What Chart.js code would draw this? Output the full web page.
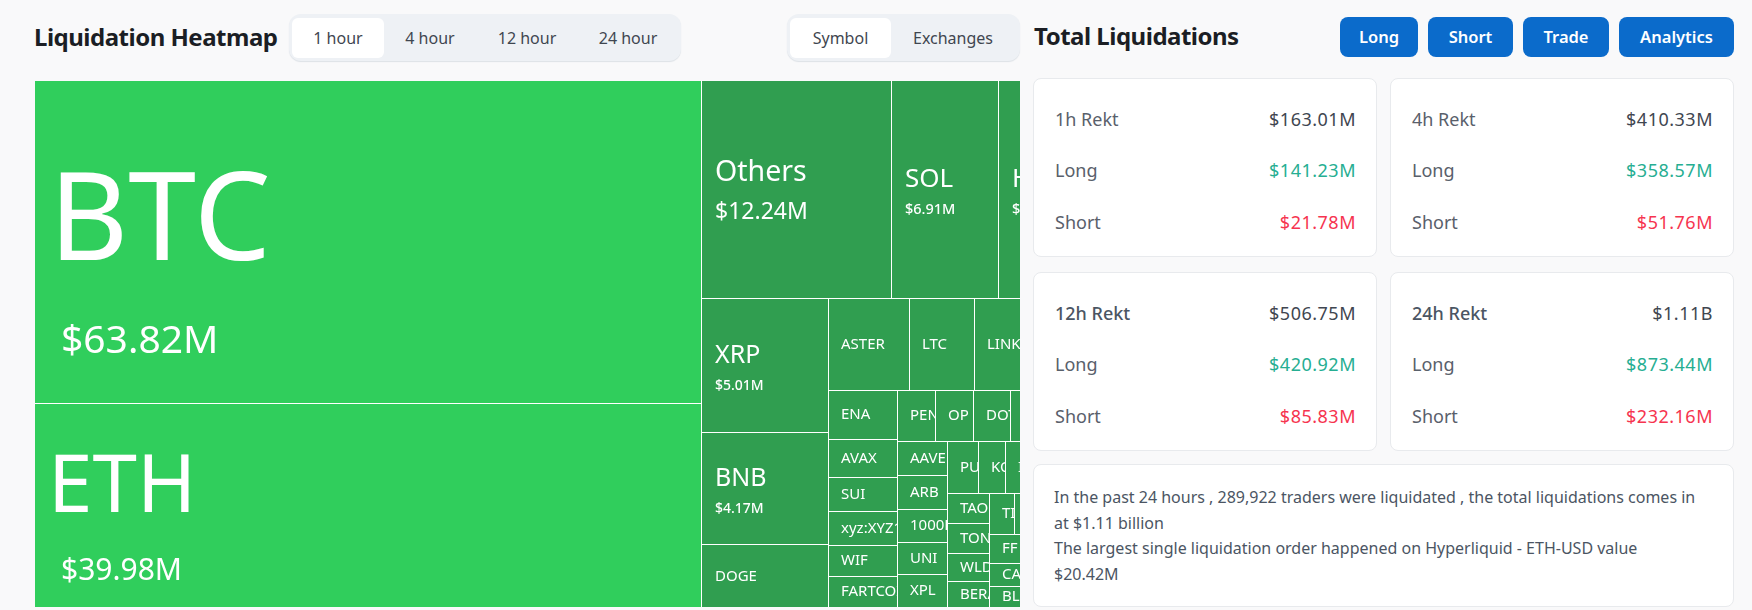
<!DOCTYPE html>
<html>
<head>
<meta charset="utf-8">
<title>Liquidation Heatmap</title>
<script src="https://cdn.jsdelivr.net/npm/chart.js@4/dist/chart.umd.js"></script>
<style>
    html, body { margin: 0; padding: 0; }
    body { width: 1752px; height: 610px; overflow: hidden; background: #f9f9fa; position: relative;
           font-family: "Noto Sans", sans-serif; color: #3f4650; }
    .title { position: absolute; font-weight: 700; font-size: 24px; line-height: 32px; color: #1b1e24; letter-spacing: -0.5px; white-space: nowrap; }
    .tabs { position: absolute; top: 14px; height: 47px; background: #eef1f5; border-radius: 12px; box-shadow: 0 1px 1px #dde1e6; }
    .tab { position: absolute; top: 4px; height: 40px; line-height: 40px; text-align: center; font-size: 16px; color: #3f4650; border-radius: 6px; }
    .tab.on { background: #fff; }
    .btn { position: absolute; top: 17px; height: 40px; line-height: 39px; text-align: center; background: #0b6bcb; color: #fff;
           font-size: 16.5px; font-weight: 600; border-radius: 8px; }
    #chartBox { position: absolute; left: 35px; top: 81px; width: 985px; height: 526px; overflow: hidden; background: #fff; }
    .card { position: absolute; background: #fff; border: 1px solid #e8eaed; border-radius: 8px; box-sizing: border-box; }
    .row { position: absolute; left: 21px; right: 20px; height: 26px; line-height: 26px; font-size: 18px; display: flex; justify-content: space-between; color: #59606b; }
    .row b { font-weight: 400; color: #3f4650; letter-spacing: 0.5px; }
    .row.head.bold span { font-weight: 500; color: #4b5563; }
    .row .up { color: #26ae92; letter-spacing: 0.5px; }
    .row .down { color: #f6344f; letter-spacing: 0.5px; }
    .note { position: absolute; left: 20px; top: 20px; width: 647px; font-size: 16px; line-height: 25.6px; color: #4b5563; }
</style>
</head>
<body>
<div class="title" style="left:34px;top:21px">Liquidation Heatmap</div>
<div class="tabs" id="hourTabs" style="left:289px;width:392px"></div>
<div class="tabs" id="modeTabs" style="left:787px;width:233px"></div>
<div id="chartBox"><canvas id="heatmap" width="1048" height="526"></canvas></div>
<div class="title" style="left:1034px;top:20px">Total Liquidations</div>
<div id="buttons"></div>
<div id="cards"></div>
<script>
// 1 hour liquidations per symbol, $M. Names and values past the crop are unreadable, left blank
const symbols = [
    'BTC', 'ETH',
    'Others', 'SOL', 'HYPE',
    'XRP', 'BNB', 'DOGE',
    'ASTER', 'LTC', 'LINK', '',
    'ENA', 'AVAX', 'SUI', 'xyz:XYZ100', 'WIF', 'FARTCOIN',
    'PENGU', 'OP', 'DOT', '', '',
    'AAVE', 'ARB', '1000PEPE', 'UNI', 'XPL',
    'PUMP', 'KO', 'IP', '', '',
    'TAO', 'TON', 'WLD', 'BERA',
    'TIA', '', '', '',
    'FF', 'CAKE', 'BLUR',
    ''
];
const liqValues = [
    63.82, 39.98,
    12.24, 6.91, 5.43,
    5.01, 4.17, 2.34,
    2.18, 1.75, 1.6, 1.32,
    1.02, 0.78, 0.7, 0.69, 0.63, 0.62,
    0.57, 0.57, 0.56, 0.55, 0.54,
    0.51, 0.5, 0.49, 0.47, 0.47,
    0.47, 0.42, 0.4, 0.4, 0.4,
    0.37, 0.37, 0.35, 0.31,
    0.3, 0.27, 0.27, 0.27,
    0.29, 0.23, 0.2,
    1.26
];
// how many cells go in each treemap strip, strips alternate column / row
const stripSizes = [2, 3, 3, 4, 6, 5, 5, 5, 4, 4, 3, 1];
const liqLabels = { 'BTC': '$63.82M', 'ETH': '$39.98M', 'Others': '$12.24M', 'SOL': '$6.91M', 'HYPE': '$5.43M', 'XRP': '$5.01M', 'BNB': '$4.17M' };

const hourTabs = ['1 hour', '4 hour', '12 hour', '24 hour'];
const modeTabs = ['Symbol', 'Exchanges'];
const actionButtons = ['Long', 'Short', 'Trade', 'Analytics'];
const rektNames = ['1h Rekt', '4h Rekt', '12h Rekt', '24h Rekt'];
const rektTotal = ['$163.01M', '$410.33M', '$506.75M', '$1.11B'];
const rektLong = ['$141.23M', '$358.57M', '$420.92M', '$873.44M'];
const rektShort = ['$21.78M', '$51.76M', '$85.83M', '$232.16M'];
const noteLines = [
    'In the past 24 hours , 289,922 traders were liquidated , the total liquidations comes in at $1.11 billion',
    'The largest single liquidation order happened on Hyperliquid - ETH-USD value $20.42M'
];

const CELL_GAP = 1;

// slice the unit square into strips, each cell area follows its value
function layoutCells(values, strips) {
    const cells = [];
    let remaining = values.reduce((a, b) => a + b, 0);
    let x0 = 0, y0 = 0, i = 0, asColumn = true;
    strips.forEach(size => {
        const part = values.slice(i, i + size);
        const sum = part.reduce((a, b) => a + b, 0);
        const share = sum / remaining;
        let run = 0;
        part.forEach(v => {
            const from = run / sum, to = (run + v) / sum;
            if (asColumn) {
                cells.push({ x0: x0, x1: x0 + (1 - x0) * share, y0: y0 + (1 - y0) * from, y1: y0 + (1 - y0) * to });
            } else {
                cells.push({ x0: x0 + (1 - x0) * from, x1: x0 + (1 - x0) * to, y0: y0, y1: y0 + (1 - y0) * share });
            }
            run += v;
        });
        if (asColumn) x0 += (1 - x0) * share; else y0 += (1 - y0) * share;
        remaining -= sum;
        i += size;
        asColumn = !asColumn;
    });
    return cells;
}

// minimal treemap type: bar elements placed through the x and y scales
class TreemapController extends Chart.DatasetController {
    parse() {}
    getMinMax() { return { min: 0, max: 1 }; }
    update() {
        const meta = this._cachedMeta;
        const cells = layoutCells(this.getDataset().data, this.getDataset().strips);
        const area = this.chart.chartArea;
        meta.data.forEach((el, i) => {
            const c = cells[i];
            const left = Math.round(meta.xScale.getPixelForValue(c.x0));
            const right = Math.round(meta.xScale.getPixelForValue(c.x1));
            const top = Math.round(meta.yScale.getPixelForValue(c.y0));
            const bottom = Math.round(meta.yScale.getPixelForValue(c.y1));
            const width = right - left - (right >= area.right ? 0 : CELL_GAP);
            const base = bottom - (bottom >= area.bottom ? 0 : CELL_GAP);
            Object.assign(el, {
                x: left + width / 2, y: top, base: base, width: width, height: base - top,
                horizontal: false, inflateAmount: 0, borderSkipped: {}, enableBorderRadius: true,
                options: {
                    backgroundColor: this.getDataset().data[i] >= 30 ? '#30ce5c' : '#309e50',
                    borderWidth: 0, borderSkipped: false, borderRadius: 0
                }
            });
        });
    }
}
TreemapController.id = 'treemapCells';
TreemapController.defaults = { datasetElementType: false, dataElementType: 'bar' };
Chart.register(TreemapController);

// label sizes go by the cell value, same steps as the page
function labelStyle(v) {
    if (v >= 50) return { name: 122, val: 39, weight: 400, nameX: 14, valX: 26, nameY: -17, valY: 100 };
    if (v >= 30) return { name: 80, val: 30, weight: 400, nameX: 13, valX: 26, nameY: -16, valY: 66 };
    if (v >= 10) return { name: 28.5, val: 23, weight: 400, nameX: 13, valX: 13, nameY: -17, valY: 23 };
    if (v >= 5.2) return { name: 26, val: 14.5, weight: 500, nameX: 13, valX: 13, nameY: -10, valY: 20 };
    if (v >= 4) return { name: 25, val: 14, weight: 500, nameX: 13, valX: 13, nameY: -10, valY: 21 };
    if (v >= 2.3) return { name: 15, val: 0, nameX: 13, valX: 0, nameY: 1, valY: 0 };
    return { name: 15, val: 0, nameX: 12, valX: 0, nameY: 0, valY: 0 };
}

const cellLabels = {
    id: 'cellLabels',
    afterDatasetsDraw(chart) {
        const ctx = chart.ctx;
        chart.getDatasetMeta(0).data.forEach((el, i) => {
            if (!symbols[i]) return;
            const s = labelStyle(liqValues[i]);
            const left = el.x - el.width / 2;
            const mid = (el.y + el.base) / 2;
            ctx.save();
            ctx.beginPath();
            ctx.rect(left, el.y, el.width, el.base - el.y);
            ctx.clip();
            ctx.fillStyle = '#fff';
            ctx.textBaseline = 'middle';
            ctx.font = s.name + 'px "Noto Sans", sans-serif';
            ctx.fillText(symbols[i], left + s.nameX, mid + s.nameY);
            if (s.val) {
                ctx.font = s.weight + ' ' + s.val + 'px "Noto Sans", sans-serif';
                ctx.fillText(liqLabels[symbols[i]], left + s.valX, mid + s.valY);
            }
            ctx.restore();
        });
    }
};

new Chart(document.getElementById('heatmap'), {
    type: 'treemapCells',
    data: {
        labels: symbols,
        datasets: [{ label: 'Liquidations', data: liqValues, strips: stripSizes }]
    },
    options: {
        responsive: false,
        animation: false,
        events: [],
        layout: { padding: 0 },
        plugins: { legend: { display: false }, tooltip: { enabled: false } },
        scales: {
            x: { type: 'linear', min: 0, max: 1, display: false },
            y: { type: 'linear', min: 0, max: 1, reverse: true, display: false }
        }
    },
    plugins: [cellLabels]
});

// page furniture around the chart
function addTabs(boxId, names, lefts, widths) {
    const box = document.getElementById(boxId);
    names.forEach((name, i) => {
        const t = document.createElement('div');
        t.className = 'tab' + (i === 0 ? ' on' : '');
        t.style.left = lefts[i] + 'px';
        t.style.width = widths[i] + 'px';
        t.textContent = name;
        box.appendChild(t);
    });
}
addTabs('hourTabs', hourTabs, [3, 95, 190, 291], [92, 92, 96, 96]);
addTabs('modeTabs', modeTabs, [3, 104], [101, 124]);

const btnLefts = [1340, 1428, 1523, 1619];
const btnWidths = [78, 85, 86, 115];
actionButtons.forEach((name, i) => {
    const b = document.createElement('div');
    b.className = 'btn';
    b.style.left = btnLefts[i] + 'px';
    b.style.width = btnWidths[i] + 'px';
    b.textContent = name;
    document.getElementById('buttons').appendChild(b);
});

const cardLefts = [1033, 1390, 1033, 1390];
const cardTops = [78, 78, 272, 272];
const cardsBox = document.getElementById('cards');
rektNames.forEach((name, i) => {
    const c = document.createElement('div');
    c.className = 'card';
    c.style.cssText = `left:${cardLefts[i]}px;top:${cardTops[i]}px;width:344px;height:179px`;
    c.innerHTML =
        `<div class="row head ${i > 1 ? 'bold' : ''}" style="top:27px"><span>${name}</span><b>${rektTotal[i]}</b></div>` +
        `<div class="row" style="top:78px"><span>Long</span><span class="up">${rektLong[i]}</span></div>` +
        `<div class="row" style="top:130px"><span>Short</span><span class="down">${rektShort[i]}</span></div>`;
    cardsBox.appendChild(c);
});
const noteCard = document.createElement('div');
noteCard.className = 'card';
noteCard.style.cssText = 'left:1033px;top:464px;width:701px;height:143px';
noteCard.innerHTML = `<div class="note">${noteLines.join('<br>')}</div>`;
cardsBox.appendChild(noteCard);
</script>
</body>
</html>
